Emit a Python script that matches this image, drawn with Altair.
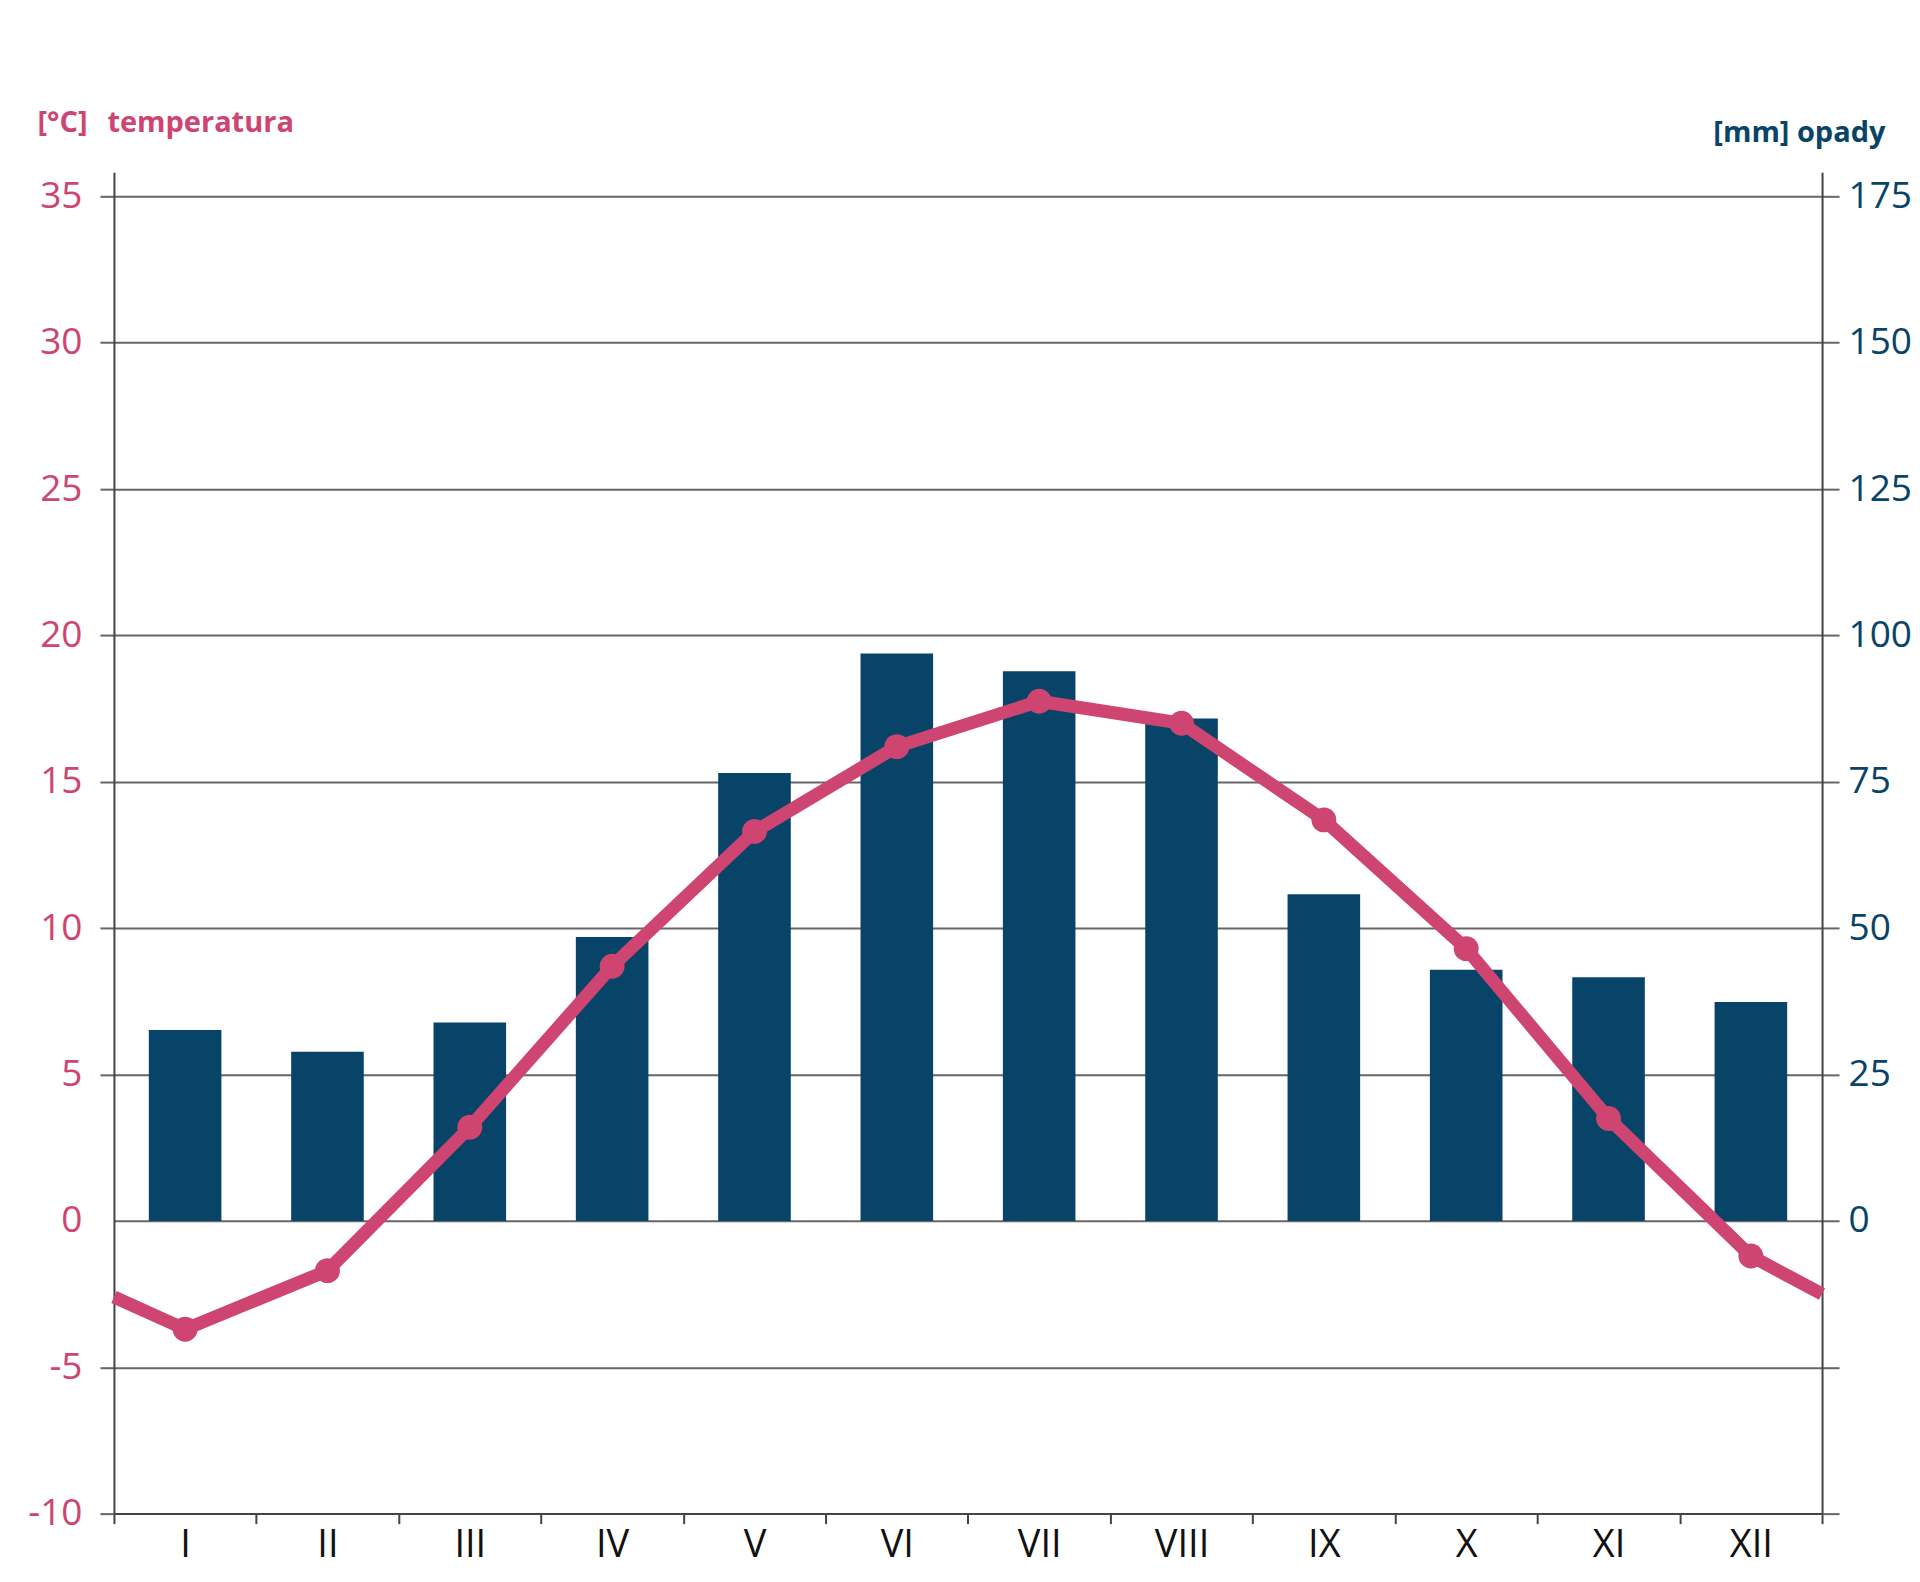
import altair as alt
import pandas as pd

# ---- data ----
months = ["I", "II", "III", "IV", "V", "VI", "VII", "VIII", "IX", "X", "XI", "XII"]
month_no = [1, 2, 3, 4, 5, 6, 7, 8, 9, 10, 11, 12]
precip_mm = [32.6, 28.9, 33.9, 48.5, 76.5, 96.9, 93.9, 85.8, 55.8, 42.9, 41.6, 37.4]
temp_c = [-3.7, -1.7, 3.2, 8.7, 13.3, 16.2, 17.75, 17.0, 13.7, 9.3, 3.5, -1.2]
# line continues to the year boundaries (start of January / end of December)
edge_month = [0.5, 12.5]
edge_temp = [-2.6, -2.5]
temp_ticks = [-10, -5, 0, 5, 10, 15, 20, 25, 30, 35]
precip_ticks = [-50, -25, 0, 25, 50, 75, 100, 125, 150, 175]

PINK = "#CD4570"
NAVY = "#074468"
GRID = "#666666"
AXIS = "#444444"
FONT = "Open Sans"

W, H = 1709, 1342
T_DOMAIN = [-10, 35.82]
P_DOMAIN = [-50, 179.1]

bars_df = pd.DataFrame({"month": months, "precip": precip_mm})
pts_df = pd.DataFrame({"m": month_no, "temp": temp_c})
line_df = pd.concat(
    [pts_df, pd.DataFrame({"m": edge_month, "temp": edge_temp})]
).sort_values("m")

x_axis = alt.Axis(
    title=None, orient="bottom", tickBand="extent", tickSize=10, tickWidth=2,
    tickColor=AXIS, domainColor=AXIS, domainWidth=2, labelFontSize=38,
    labelColor="#111111", labelPadding=3, labelAngle=0, grid=False,
    labelFont=FONT,
)

right_axis = alt.Axis(
    orient="right", values=precip_ticks,
    labelExpr="datum.value >= 0 ? datum.label : ''",
    tickSize=17, tickColor=GRID, tickWidth=2, domainColor=AXIS, domainWidth=2,
    labelFontSize=37, labelColor=NAVY, labelPadding=9, grid=False,
    title="[mm] opady", titleAngle=0, titleAlign="right",
    titleBaseline="alphabetic", titleX=63, titleY=-31, titleFontSize=29,
    titleFontWeight="bold", titleColor=NAVY, labelFont=FONT, titleFont=FONT,
)

left_axis = alt.Axis(
    orient="left", values=temp_ticks,
    labelExpr="datum.value < 0 ? '-' + abs(datum.value) : datum.label",
    tickSize=14, tickColor=GRID, tickWidth=2,
    tickOpacity={"condition": {"test": "datum.value === 0", "value": 0}, "value": 1},
    domainColor=AXIS, domainWidth=2, grid=True, gridColor=GRID, gridWidth=2,
    labelFontSize=37, labelColor=PINK, labelPadding=18,
    title="[°C]\u00a0\u00a0\u2009temperatura", titleAngle=0, titleAlign="left",
    titleBaseline="alphabetic", titleX=-77, titleY=-41, titleFontSize=29,
    titleFontWeight="bold", titleColor=PINK, labelFont=FONT, titleFont=FONT,
)

bars = alt.Chart(bars_df).mark_bar(color=NAVY, width={"band": 0.51}).encode(
    x=alt.X("month:N", sort=months,
            scale=alt.Scale(paddingInner=0, paddingOuter=0), axis=x_axis),
    y=alt.Y("precip:Q", scale=alt.Scale(domain=P_DOMAIN, nice=False, zero=False),
            axis=right_axis),
)

x_line = alt.X("m:Q", scale=alt.Scale(domain=[0.5, 12.5], nice=False, zero=False),
               axis=None)
y_line = alt.Y("temp:Q", scale=alt.Scale(domain=T_DOMAIN, nice=False, zero=False),
               axis=left_axis)

line = alt.Chart(line_df).mark_line(
    color=PINK, strokeWidth=13, strokeCap="butt", strokeJoin="round"
).encode(x=x_line, y=y_line)

points = alt.Chart(pts_df).mark_circle(color=PINK, size=620, opacity=1).encode(
    x=x_line, y=y_line
)

chart = alt.layer(bars, alt.layer(line, points)).resolve_scale(
    x="independent", y="independent"
).properties(
    width=W, height=H,
    autosize=alt.AutoSizeParams(type="none"),
    padding={"left": 106, "top": 164, "right": 90, "bottom": 70},
    background="white",
).configure(font=FONT).configure_view(stroke=None)

chart.save("out.html", embed_options={"renderer": "svg", "actions": False})
